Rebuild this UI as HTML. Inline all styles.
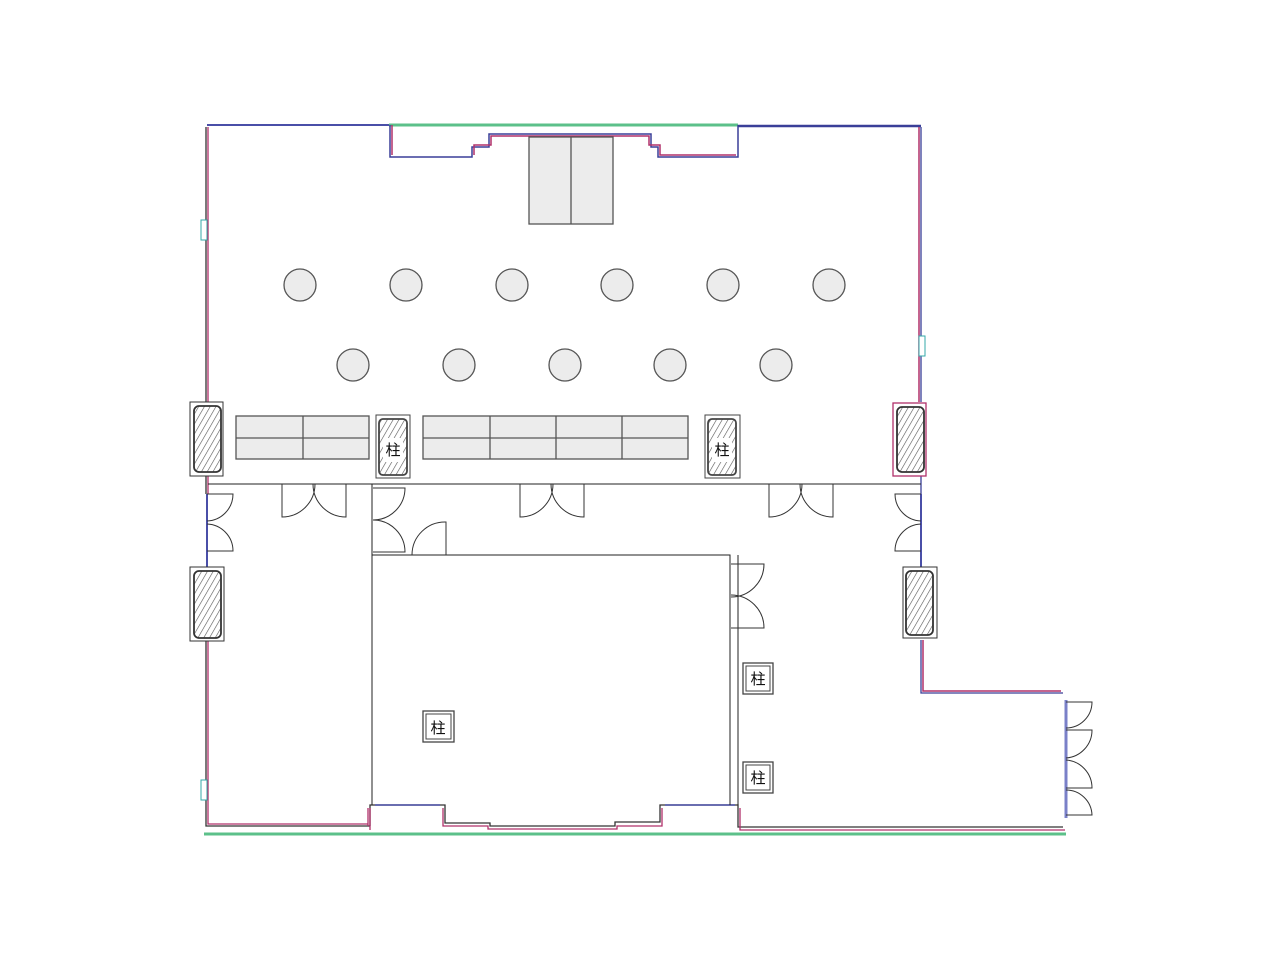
<!DOCTYPE html>
<html><head><meta charset="utf-8"><style>
html,body{margin:0;padding:0;background:#fff;width:1280px;height:960px;overflow:hidden}
svg{display:block}
text{font-family:"Liberation Sans","Noto Sans CJK JP",sans-serif;font-size:15px;fill:#111}
</style></head><body>
<svg width="1280" height="960" viewBox="0 0 1280 960" xmlns="http://www.w3.org/2000/svg">
<defs>
<pattern id="h" width="5" height="5" patternUnits="userSpaceOnUse" patternTransform="rotate(30)">
<rect width="5" height="5" fill="#fff"/><line x1="0" y1="0" x2="0" y2="5" stroke="#555" stroke-width="1.2"/></pattern>
</defs>
<!-- top wall -->
<line x1="207" y1="125" x2="389" y2="125" stroke="#4a4fa8" stroke-width="2"/>
<line x1="389" y1="125" x2="738" y2="125" stroke="#5cc08a" stroke-width="3"/>
<line x1="738" y1="126" x2="921" y2="126" stroke="#3a3f98" stroke-width="2.5"/>
<!-- top recess -->
<path d="M390,125 V157 H472 V147 H489 V134 H651 V147 H658 V157 H738 V125" fill="none" stroke="#3a3f98" stroke-width="1.5"/>
<path d="M392,125 V155 M474,155 V145 H491 V136 H649 V145 H660 V155 H736" fill="none" stroke="#b0306a" stroke-width="1.5"/>
<!-- stage tables -->
<rect x="529" y="137" width="84" height="87" fill="#ececec" stroke="#555" stroke-width="1.3"/>
<line x1="571" y1="137" x2="571" y2="224" stroke="#555" stroke-width="1.3"/>
<!-- left wall -->
<path d="M206,127 V402 M206,476 V494 M206,641 V826 H370" fill="none" stroke="#333" stroke-width="1.3"/>
<path d="M208,127 V402 M208,476 V494 M208,641 V824 H368" fill="none" stroke="#b0306a" stroke-width="1.3"/>
<line x1="207" y1="494" x2="207" y2="567" stroke="#4a4fa8" stroke-width="2"/>
<rect x="201" y="220" width="6" height="20" fill="#fff" stroke="#3aa" stroke-width="1"/>
<rect x="201" y="780" width="6" height="20" fill="#fff" stroke="#3aa" stroke-width="1"/>
<!-- right wall -->
<path d="M921,127 V402 M921,476 V494 M921,640 V693 H1063" fill="none" stroke="#3a3f98" stroke-width="1.3"/>
<path d="M919,127 V402 M923,640 V691 H1061" fill="none" stroke="#b0306a" stroke-width="1.5"/>
<line x1="921" y1="494" x2="921" y2="567" stroke="#4a4fa8" stroke-width="2"/>
<rect x="919" y="336" width="6" height="20" fill="#fff" stroke="#3aa" stroke-width="1"/>
<line x1="1066" y1="700" x2="1066" y2="818" stroke="#7a80c8" stroke-width="3"/>
<!-- bottom wall -->
<path d="M370,826 V805 H445 V823 H490 V826 H615 V822 H660 V805 H738 V827 H1063" fill="none" stroke="#333" stroke-width="1.3"/>
<path d="M368,826 V808 M370,830 V808 M443,808 V826 H488 V829 H617 V826 H662 V808 M740,808 V830 H1065" fill="none" stroke="#b0306a" stroke-width="1.3"/>
<path d="M375,805 H440 M665,805 H735" stroke="#4a4fa8" stroke-width="1.5"/>
<line x1="204" y1="834" x2="1066" y2="834" stroke="#5cc08a" stroke-width="3"/>
<!-- circles -->
<g fill="#ececec" stroke="#555" stroke-width="1.3">
<circle cx="300" cy="285" r="16"/><circle cx="406" cy="285" r="16"/><circle cx="512" cy="285" r="16"/><circle cx="617" cy="285" r="16"/><circle cx="723" cy="285" r="16"/><circle cx="829" cy="285" r="16"/>
<circle cx="353" cy="365" r="16"/><circle cx="459" cy="365" r="16"/><circle cx="565" cy="365" r="16"/><circle cx="670" cy="365" r="16"/><circle cx="776" cy="365" r="16"/>
</g>
<!-- benches -->
<g fill="#ececec" stroke="#555" stroke-width="1.3">
<rect x="236" y="416" width="133" height="43"/><rect x="423" y="416" width="265" height="43"/>
</g>
<path d="M303,416 V459 M236,438 H369 M490,416 V459 M556,416 V459 M622,416 V459 M423,438 H688" stroke="#555" stroke-width="1.3"/>
<!-- corridor + room lines -->
<g fill="none" stroke="#222" stroke-width="1">
<line x1="208" y1="484" x2="921" y2="484"/>
<line x1="372" y1="484" x2="372" y2="805"/>
<path d="M372,555 H730 V805"/>
<line x1="738" y1="555" x2="738" y2="805"/>
</g>
<!-- doors -->
<g fill="none" stroke="#333" stroke-width="1">
<path d="M282,484 V517 A33,33 0 0 0 315,484 M346,484 V517 A33,33 0 0 1 313,484"/>
<path d="M520,484 V517 A33,33 0 0 0 553,484 M584,484 V517 A33,33 0 0 1 551,484"/>
<path d="M769,484 V517 A33,33 0 0 0 802,484 M833,484 V517 A33,33 0 0 1 800,484"/>
<path d="M207,494 H233 A27,27 0 0 1 207,521 M207,551 H233 A27,27 0 0 0 207,524"/>
<path d="M921,494 H895 A27,27 0 0 0 921,521 M921,551 H895 A27,27 0 0 1 921,524"/>
<path d="M373,488 H405 A32,32 0 0 1 373,520 M373,552 H405 A32,32 0 0 0 373,520"/>
<path d="M446,555 V522 A33,33 0 0 0 412,555"/>
<path d="M731,564 H764 A33,33 0 0 1 731,597 M731,628 H764 A33,33 0 0 0 731,595"/>
<path d="M1066,702 H1092 A26,26 0 0 1 1066,728 M1066,730 H1092 A28,28 0 0 1 1066,758 M1066,788 H1092 A28,28 0 0 0 1066,760 M1066,815 H1092 A26,26 0 0 0 1066,790"/>
</g>
<!-- wall columns hatched -->
<g stroke="#333">
<rect x="190" y="402" width="33" height="74" fill="#fff" stroke-width="1"/>
<rect x="194" y="406" width="27" height="66" rx="5" fill="url(#h)" stroke-width="1.8"/>
<rect x="893" y="403" width="33" height="73" fill="#fff" stroke="#b0306a" stroke-width="1.3"/>
<rect x="897" y="407" width="27" height="65" rx="5" fill="url(#h)" stroke-width="1.8"/>
<rect x="190" y="567" width="34" height="74" fill="#fff" stroke-width="1"/>
<rect x="194" y="571" width="27" height="67" rx="5" fill="url(#h)" stroke-width="1.8"/>
<rect x="903" y="567" width="34" height="71" fill="#fff" stroke-width="1"/>
<rect x="906" y="571" width="27" height="64" rx="5" fill="url(#h)" stroke-width="1.8"/>
</g>
<!-- 柱 columns -->
<g stroke="#444" stroke-width="1">
<rect x="376" y="415" width="34" height="63" fill="#fff"/><rect x="379" y="419" width="28" height="56" rx="4" fill="url(#h)" stroke-width="1.8"/>
<rect x="383" y="438" width="20" height="24" fill="#fff" stroke="none"/>
<rect x="705" y="415" width="35" height="63" fill="#fff"/><rect x="708" y="419" width="28" height="56" rx="4" fill="url(#h)" stroke-width="1.8"/>
<rect x="712" y="438" width="20" height="24" fill="#fff" stroke="none"/>
<rect x="423" y="711" width="31" height="31" fill="#fff" stroke-width="1.3"/><rect x="426" y="714" width="25" height="25" fill="#fff"/>
<rect x="743" y="663" width="30" height="31" fill="#fff" stroke-width="1.3"/><rect x="746" y="666" width="24" height="25" fill="#fff"/>
<rect x="743" y="762" width="30" height="31" fill="#fff" stroke-width="1.3"/><rect x="746" y="765" width="24" height="25" fill="#fff"/>
</g>
<text x="393" y="455" text-anchor="middle">柱</text>
<text x="722" y="455" text-anchor="middle">柱</text>
<text x="438" y="733" text-anchor="middle">柱</text>
<text x="758" y="684" text-anchor="middle">柱</text>
<text x="758" y="783" text-anchor="middle">柱</text>
</svg>
</body></html>
